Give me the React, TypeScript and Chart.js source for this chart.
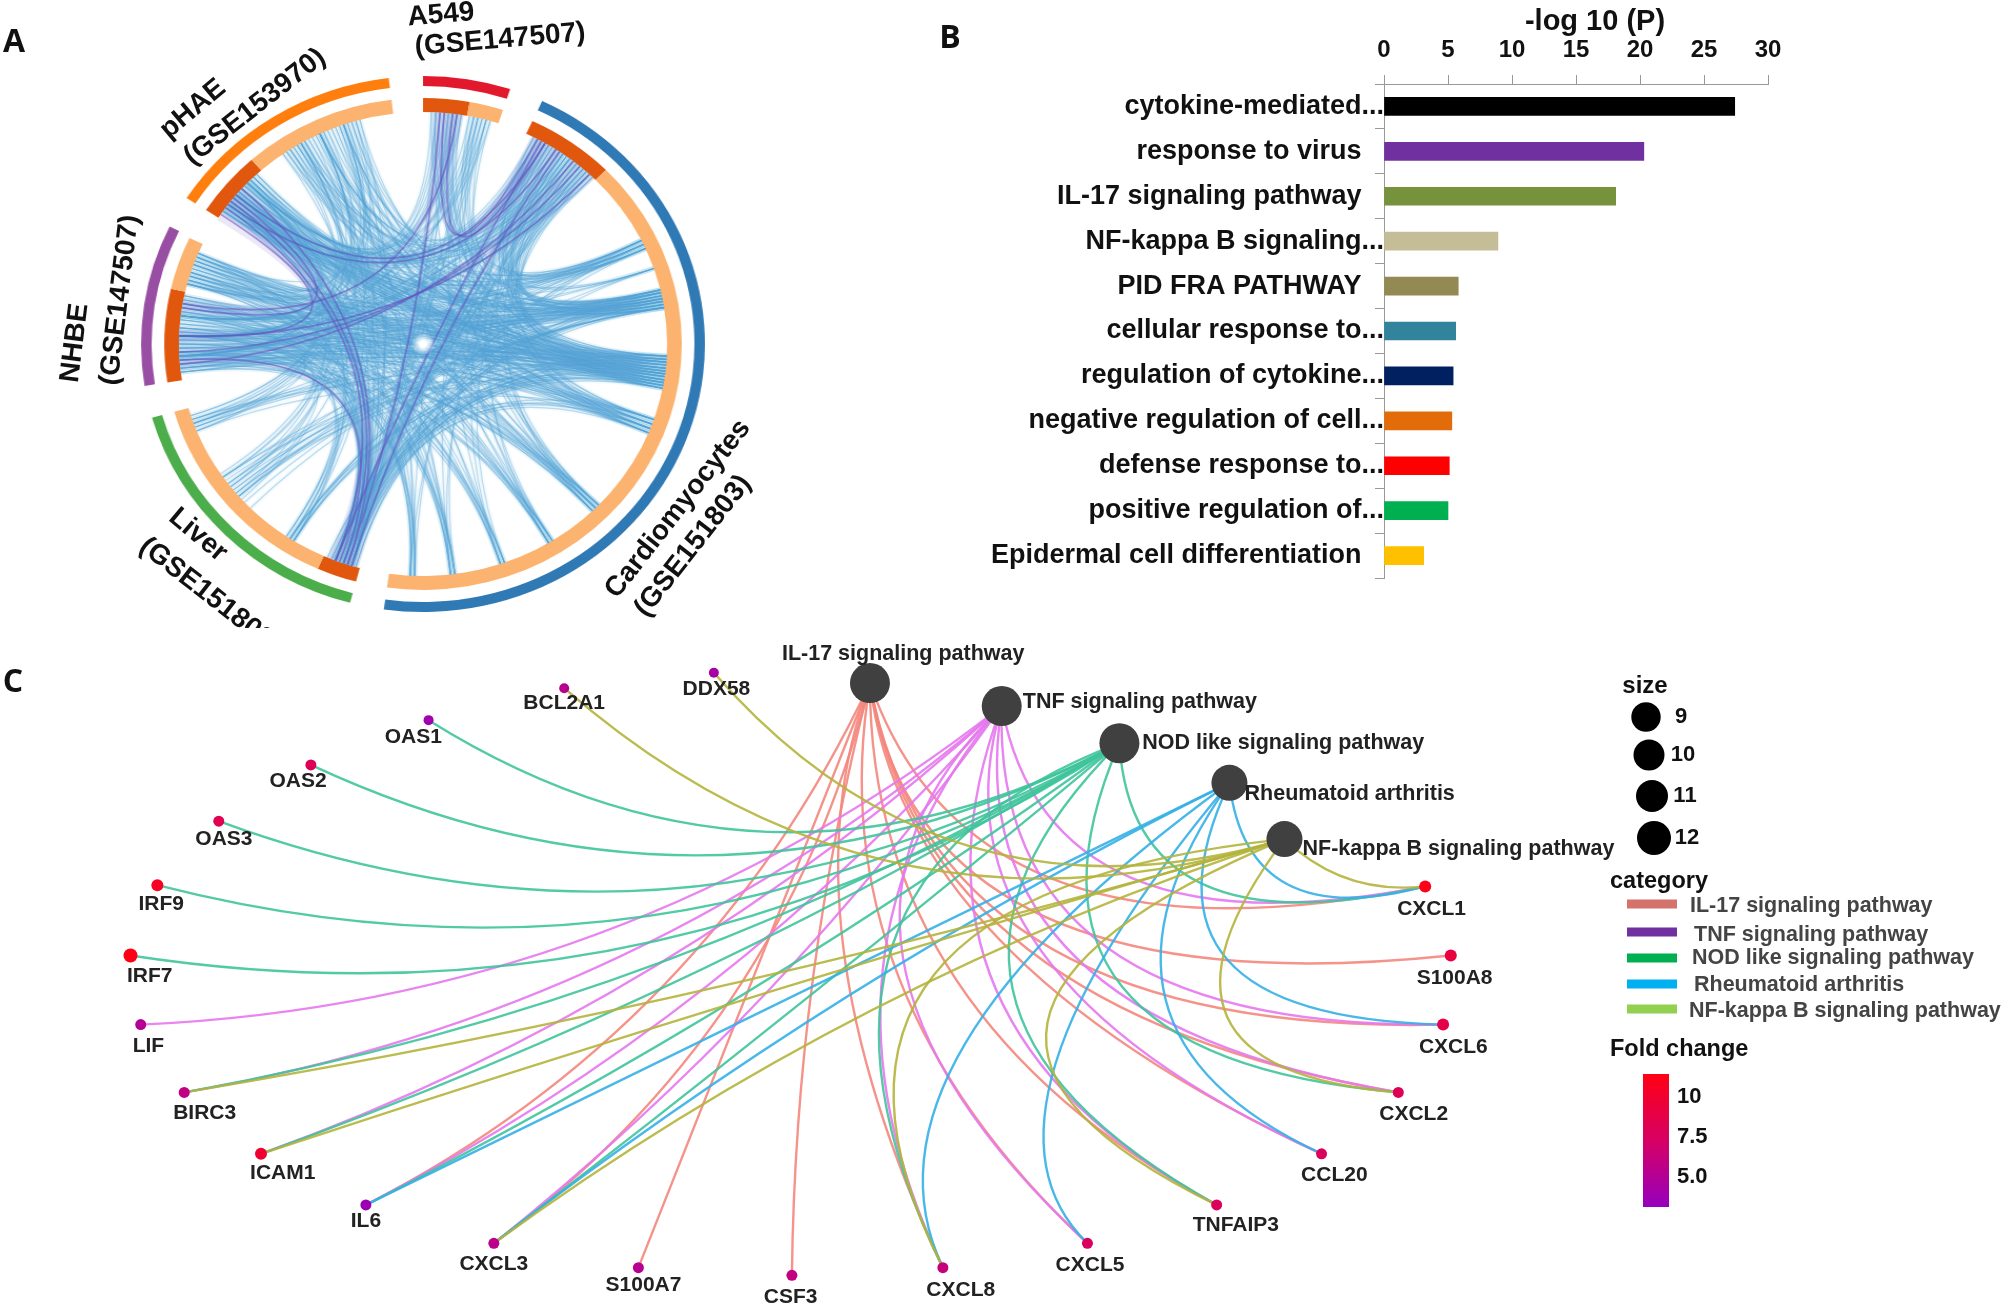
import React, { useEffect, useRef } from "react";
import { Chart, registerables } from "chart.js";

Chart.register(...registerables);

// ---------- Panel B ----------
const barLabels = ["cytokine-mediated...", "response to virus", "IL-17 signaling pathway", "NF-kappa B signaling...", "PID FRA PATHWAY", "cellular response to...", "regulation of cytokine...", "negative regulation of cell...", "defense response to...", "positive regulation of...", "Epidermal cell differentiation"];
const barValues = [27.4, 20.3, 18.1, 8.9, 5.8, 5.6, 5.4, 5.3, 5.1, 5.0, 3.1];
const barColors = ["#000000", "#7030a0", "#76923c", "#c4bd97", "#938953", "#31849b", "#002060", "#e36c0a", "#ff0000", "#00b050", "#ffc000"];
const barLabelGap = [0, 3, 3, 0, 3, 0, 0, 0, 0, 0, 3];

// ---------- Panel A ----------
const outerRingValues = [18, 7, 163, 7, 59, 7, 35, 7, 50, 7];
const outerRingColors = ["#e2182d", "transparent", "#2f79b5", "transparent", "#4bae4a", "transparent", "#984ea3", "transparent", "#ff7f0e", "transparent"];
const innerRingValues = [10.4, 7.6, 7, 20, 143, 7, 9, 50, 7, 22, 12.5, 7.5, 15.5, 34.5, 7];
const innerRingColors = ["#e2570e", "#fbb36f", "transparent", "#e2570e", "#fbb36f", "transparent", "#e2570e", "#fbb36f", "transparent", "#e2570e", "#fbb36f", "transparent", "#e2570e", "#fbb36f", "transparent"];

const blueLinks: [number, number[]][] = [
  [63.5, [306, 312, 331, 268, 277, 199, 33, 287, 233, 8]],
  [64.6, [308, 315, 338, 271, 281, 201, 37, 291, 212, 14]],
  [65.7, [305, 310, 327, 265, 274, 197, 41, 285, 250, 5]],
  [71, [309, 343, 269, 279, 198, 30, 229]],
  [76.5, [307, 313, 329, 264, 272, 280, 200, 35, 289, 235]],
  [77.2, [311, 316, 335, 267, 275, 196, 39, 292, 213, 3]],
  [78, [306, 309, 341, 263, 270, 282, 202, 28, 286, 250]],
  [78.7, [308, 314, 328, 266, 273, 278, 199, 43, 290, 231, 12]],
  [79.4, [305, 312, 333, 269, 276, 197, 32, 288, 213]],
  [80.2, [310, 317, 344, 264, 271, 281, 201, 36, 293, 249, 7]],
  [81, [307, 315, 326, 268, 279, 198, 40, 285, 233, 227, 229, 225, 231]],
  [93, [306, 313, 332, 265, 272, 200, 29, 291, 212, 15]],
  [93.8, [309, 316, 339, 267, 277, 203, 34, 287, 251]],
  [94.5, [305, 311, 325, 270, 280, 196, 38, 289, 230, 4]],
  [95.2, [308, 314, 336, 263, 274, 199, 42, 292, 213]],
  [96, [307, 312, 342, 266, 275, 282, 202, 31, 286, 235, 9]],
  [96.7, [310, 317, 329, 269, 278, 197, 35, 290, 249]],
  [97.4, [306, 309, 334, 264, 273, 281, 201, 39, 288, 232, 13]],
  [98.1, [311, 315, 327, 268, 271, 198, 27, 285, 212]],
  [98.9, [305, 313, 340, 265, 276, 200, 33, 293, 250, 6]],
  [99.6, [308, 316, 331, 267, 279, 196, 37, 287, 229]],
  [100.3, [307, 310, 345, 270, 274, 203, 41, 291, 213, 2]],
  [101, [309, 314, 337, 263, 272, 199, 30, 289, 234]],
  [109, [306, 312, 330, 266, 277, 202, 36, 286, 251, 11]],
  [110.2, [310, 317, 343, 269, 280, 197, 40, 292, 230]],
  [111.4, [305, 315, 326, 264, 273, 201, 28, 288, 212, 8]],
  [112.5, [308, 311, 335, 268, 282, 198, 34, 290, 248]],
  [134, [307, 313, 332, 265, 275, 38, 287, 16, 5]],
  [135, [309, 316, 341, 267, 278, 32, 291, 13]],
  [136, [306, 311, 328, 270, 271, 43, 285, 7]],
  [148, [308, 315, 338, 263, 279, 29, 289, 3]],
  [149, [305, 312, 344, 266, 274, 35, 293, 12]],
  [160.5, [310, 329, 269, 281, 41, 286]],
  [161.5, [307, 336, 264, 276, 31, 290, 9]],
  [172.5, [309, 314, 327, 268, 272, 37, 288]],
  [173.5, [306, 339, 265, 280, 42, 292, 15]],
  [182, [311, 331, 267, 273, 33, 287]],
  [183, [308, 342, 270, 277, 39, 285, 6]],
  [199, [28, 31, 34, 37, 40, 43, 12, 15, 4, 8, 306, 310, 314, 328, 336, 343, 286, 290, 264, 270, 276, 282]],
  [197, [29, 33, 36, 39, 42, 14, 3, 6, 305, 308, 312, 316, 331, 340, 288, 292, 266, 272, 278]],
  [201, [27, 30, 35, 38, 41, 44, 13, 7, 307, 311, 315, 325, 334, 345, 285, 293, 263, 268, 274, 280]],
  [267, [30, 33, 38, 41, 8, 14, 327, 333, 340, 213, 232, 250]],
  [272, [28, 35, 37, 43, 4, 11, 329, 337, 344, 212, 229, 248]],
  [277, [31, 36, 40, 44, 6, 15, 326, 335, 342, 214, 235, 251]],
  [310, [28, 31, 34, 38, 41, 3, 9, 13, 214, 230, 252, 286, 291]],
  [307, [30, 33, 36, 39, 43, 5, 7, 16, 212, 233, 249, 288, 293]],
  [314, [27, 32, 35, 37, 42, 2, 8, 12, 213, 236, 251, 285, 290]],
  [335, [29, 37, 44, 213, 232, 250, 287]],
  [341, [32, 40, 212, 228, 248, 292]],
  [330, [35, 42, 214, 235, 252, 285]],
];

const purpleLinks: [number, number][] = [
  [308, 199], [312, 198], [306, 201], [268, 40], [272, 43], [265, 38],
  [310, 30], [307, 33], [309, 279], [304, 272], [5, 28], [7, 30],
  [4, 198], [197, 34], [201, 29], [200, 266], [280, 8],
];

// ---------- Panel C ----------
const pathwayNames = ["IL-17 signaling pathway", "TNF signaling pathway", "NOD like signaling pathway", "Rheumatoid arthritis", "NF-kappa B signaling pathway"];
const pathwayX = [680, 783, 875, 961, 1004];
const pathwayY = [534, 552, 581, 612, 656];
const pathwayR = [20, 20, 20, 18, 18];
const pathwayLabelX = [706, 891, 1003, 1055, 1140];
const pathwayLabelY = [511, 549, 581, 621, 664];
const edgeColors = ["rgba(244,135,125,0.9)", "rgba(230,120,238,0.9)", "rgba(63,196,155,0.9)", "rgba(53,176,230,0.9)", "rgba(180,180,60,0.9)"];

const geneNames = ["OAS1", "BCL2A1", "DDX58", "OAS2", "OAS3", "IRF9", "IRF7", "LIF", "BIRC3", "ICAM1", "IL6", "CXCL3", "S100A7", "CSF3", "CXCL8", "CXCL5", "TNFAIP3", "CCL20", "CXCL2", "CXCL6", "S100A8", "CXCL1"];
const geneX = [335, 441, 558, 243, 171, 123, 102, 110, 144, 204, 286, 386, 499, 619, 737, 850, 951, 1033, 1093, 1128, 1134, 1114];
const geneY = [563, 538, 526, 598, 642, 692, 747, 801, 854, 902, 942, 972, 991, 997, 991, 972, 942, 902, 854, 801, 747, 693];
const geneLabelX = [323, 441, 560, 233, 175, 126, 117, 116, 160, 221, 286, 386, 503, 618, 751, 852, 966, 1043, 1105, 1136, 1137, 1119];
const geneLabelY = [576, 550, 539, 611, 656, 707, 763, 818, 870, 917, 955, 988, 1005, 1014, 1009, 989, 958, 919, 871, 819, 765, 711];
const geneFold = [4.6, 5.8, 5.0, 8.0, 8.2, 10, 10.6, 5.6, 6.2, 9.4, 4.4, 6.0, 5.8, 6.4, 6.6, 7.6, 7.8, 7.8, 8.0, 8.6, 8.8, 10.4];
const geneR = [5, 5, 5, 5.5, 5.5, 6, 7, 5.5, 5.5, 6, 5.5, 5.5, 5.5, 5.5, 5.5, 5.5, 5.5, 5.5, 5.5, 6, 6, 6];

// Each edge: [gene, bend] (fraction of the chord) or [gene, controlX, controlY].
type Edge = [string, number, number?];
const il17Edges: Edge[] = [["CXCL3", -0.18], ["IL6", -0.17], ["S100A7", 0.0], ["CSF3", 0.06], ["CXCL8", 610, 720], ["CXCL5", 640, 775], ["TNFAIP3", 680, 795], ["CCL20", 705, 750], ["CXCL2", 720, 790], ["CXCL6", 730, 810], ["S100A8", 720, 790], ["CXCL1", 760, 765]];
const tnfEdges: Edge[] = [["LIF", -0.16], ["BIRC3", -0.14], ["ICAM1", -0.1], ["IL6", -0.095], ["CXCL3", -0.07], ["CXCL8", 620, 745], ["CXCL5", 595, 735], ["TNFAIP3", 690, 800], ["CCL20", 720, 760], ["CXCL2", 745, 795], ["CXCL6", 775, 805], ["CXCL1", 820, 750]];
const nodEdges: Edge[] = [["OAS1", -0.29], ["OAS2", -0.25], ["OAS3", -0.235], ["IRF9", -0.21], ["IRF7", -0.19], ["BIRC3", -0.09], ["ICAM1", -0.05], ["IL6", -0.04], ["CXCL3", -0.01], ["CXCL8", 590, 690], ["TNFAIP3", 670, 785], ["CXCL2", 770, 825], ["CXCL1", 885, 745]];
const raEdges: Edge[] = [["IL6", 0.0], ["CXCL3", 0.05], ["CXCL8", 660, 830], ["CXCL5", 745, 870], ["CCL20", 825, 805], ["CXCL6", 875, 795], ["CXCL1", 975, 730]];
const nfkbEdges: Edge[] = [["BCL2A1", -0.28], ["DDX58", -0.32], ["BIRC3", -0.03], ["ICAM1", 0.01], ["CXCL3", 0.08], ["CXCL8", 590, 700], ["TNFAIP3", 660, 800], ["CXCL2", 870, 835], ["CXCL1", 1050, 700]];
const allEdges = [il17Edges, tnfEdges, nodEdges, raEdges, nfkbEdges];

const sizeLabels = ["9", "10", "11", "12"];
const sizeX = [1646, 1649, 1652, 1654];
const sizeY = [717, 755, 796, 838];
const sizeR = [14.7, 15.5, 16, 17];
const sizeLabelX = [1681, 1683, 1685, 1687];

const categoryNames = pathwayNames;
const categoryColors = ["#d4736b", "#7030a0", "#00b050", "#00b0f0", "#92d050"];
const categoryLineY = [904, 932, 958, 984, 1009];
const categoryLabelX = [1690, 1694, 1692, 1694, 1689];
const categoryLabelY = [906, 935, 958, 985, 1011];

const foldTicks = ["10", "7.5", "5.0"];
const foldTickY = [1097, 1137, 1177];

type T = [string, number, number, number, string, string?];
const BOLD = '"Liberation Sans"';
const panelTexts: T[] = [
  ["A", 14, 43, 0, `bold 32px "Open Sans"`],
  ["B", 950, 39, 0, `bold 32px "Open Sans"`],
  ["C", 13, 683, 0, `bold 32px "Open Sans"`],
  ["A549", 441, 15, -5, `bold 28px ${BOLD}`],
  ["(GSE147507)", 500, 40, -5, `bold 28px ${BOLD}`],
  ["pHAE", 193, 109, -40, `bold 28px ${BOLD}`],
  ["(GSE153970)", 255, 107, -38, `bold 28px ${BOLD}`],
  ["NHBE", 75, 343, -83, `bold 28px ${BOLD}`],
  ["(GSE147507)", 120, 300, -83, `bold 28px ${BOLD}`],
  ["Liver", 198, 535, 40, `bold 28px ${BOLD}`],
  ["Cardiomyocytes", 678, 509, -52, `bold 28px ${BOLD}`],
  ["(GSE151803)", 693, 546, -52, `bold 28px ${BOLD}`],
  ["-log 10 (P)", 1595, 22, 0, `bold 29px ${BOLD}`],
  ["size", 1645, 686, 0, `bold 24px ${BOLD}`],
];
const clippedLiverText = "(GSE151803)";

function foldColor(v: number) {
  const stops: [number, number[]][] = [[4, [150, 0, 190]], [7.5, [215, 0, 100]], [10.5, [255, 0, 20]]];
  let a = stops[0], b = stops[1];
  if (v > 7.5) { a = stops[1]; b = stops[2]; }
  const t = Math.max(0, Math.min(1, (v - a[0]) / (b[0] - a[0])));
  const c = a[1].map((x, i) => Math.round(x + (b[1][i] - x) * t));
  return `rgb(${c[0]},${c[1]},${c[2]})`;
}

const chordPlugin = {
  id: "chords",
  afterDatasetsDraw(chart: any) {
    const arc = chart.getDatasetMeta(2).data[0];
    const cx = arc.x, cy = arc.y, r = arc.innerRadius;
    const pt = (deg: number) => {
      const t = (deg * Math.PI) / 180;
      return [cx + r * Math.sin(t), cy - r * Math.cos(t)];
    };
    const ctx = chart.ctx;
    ctx.save();
    ctx.fillStyle = "rgba(185,165,225,0.25)";
    purpleLinks.forEach(([a, b]) => {
      const p1 = pt(a - 1.6), p2 = pt(a + 1.6), q1 = pt(b - 1.6), q2 = pt(b + 1.6);
      ctx.beginPath();
      ctx.moveTo(p1[0], p1[1]);
      ctx.quadraticCurveTo(cx, cy, q1[0], q1[1]);
      ctx.lineTo(q2[0], q2[1]);
      ctx.quadraticCurveTo(cx, cy, p2[0], p2[1]);
      ctx.closePath();
      ctx.fill();
    });
    const drawBlue = (color: string, w: number) => {
      ctx.strokeStyle = color;
      ctx.lineWidth = w;
      blueLinks.forEach(([a, list]) => {
        const p = pt(a);
        list.forEach((b) => {
          const q = pt(b);
          ctx.beginPath();
          ctx.moveTo(p[0], p[1]);
          ctx.quadraticCurveTo(cx, cy, q[0], q[1]);
          ctx.stroke();
        });
      });
    };
    drawBlue("rgba(110,180,225,0.06)", 5);
    drawBlue("rgba(85,160,212,0.38)", 1.2);
    ctx.strokeStyle = "rgba(100,80,190,0.55)";
    ctx.lineWidth = 1.8;
    purpleLinks.forEach(([a, b]) => {
      const p = pt(a), q = pt(b);
      ctx.beginPath();
      ctx.moveTo(p[0], p[1]);
      ctx.quadraticCurveTo(cx, cy, q[0], q[1]);
      ctx.stroke();
    });
    const hole = ctx.createRadialGradient(cx, cy, 3, cx, cy, 11);
    hole.addColorStop(0, "rgba(255,255,255,1)");
    hole.addColorStop(1, "rgba(255,255,255,0)");
    ctx.fillStyle = hole;
    ctx.beginPath();
    ctx.arc(cx, cy, 11, 0, Math.PI * 2);
    ctx.fill();
    ctx.restore();
  },
};

function drawText(ctx: any, text: string, x: number, y: number, rot: number, font: string, color = "#111", align = "center") {
  ctx.save();
  ctx.translate(x, y);
  ctx.rotate((rot * Math.PI) / 180);
  ctx.font = font;
  ctx.fillStyle = color;
  ctx.textAlign = align;
  ctx.textBaseline = "middle";
  ctx.fillText(text, 0, 0);
  ctx.restore();
}

const networkPlugin = {
  id: "network",
  beforeDatasetsDraw(chart: any) {
    const { ctx, scales } = chart;
    const X = (v: number) => scales.x.getPixelForValue(v);
    const Y = (v: number) => scales.y.getPixelForValue(v);
    ctx.save();
    ctx.lineWidth = 2.4;
    ctx.lineCap = "round";
    allEdges.forEach((edges, pi) => {
      ctx.strokeStyle = edgeColors[pi];
      edges.forEach(([gene, a, b]) => {
        const gi = geneNames.indexOf(gene);
        const x0 = X(pathwayX[pi]), y0 = Y(pathwayY[pi]), x1 = X(geneX[gi]), y1 = Y(geneY[gi]);
        const dx = x1 - x0, dy = y1 - y0;
        const cx = b === undefined ? (x0 + x1) / 2 - dy * a : X(a);
        const cy = b === undefined ? (y0 + y1) / 2 + dx * a : Y(b);
        ctx.beginPath();
        ctx.moveTo(x0, y0);
        ctx.quadraticCurveTo(cx, cy, x1, y1);
        ctx.stroke();
      });
    });
    ctx.restore();
  },
  afterDatasetsDraw(chart: any) {
    const { ctx, scales } = chart;
    const X = (v: number) => scales.x.getPixelForValue(v);
    const Y = (v: number) => scales.y.getPixelForValue(v);
    const geneFont = `bold 21px ${BOLD}`;
    geneNames.forEach((n, i) => drawText(ctx, n, X(geneLabelX[i]), Y(geneLabelY[i]), 0, geneFont, "#222"));
    const pFont = `bold 21.5px ${BOLD}`;
    pathwayNames.forEach((n, i) => drawText(ctx, n, X(pathwayLabelX[i]), Y(pathwayLabelY[i]), 0, pFont, "#222"));

    panelTexts.forEach(([t, x, y, r, f]) => drawText(ctx, t, x, y, r, f, "#111"));

    // clipped label of panel A
    ctx.save();
    ctx.beginPath();
    ctx.rect(100, 500, 300, 128);
    ctx.clip();
    drawText(ctx, clippedLiverText, 210, 596, 38, `bold 28px ${BOLD}`, "#111");
    ctx.restore();

    // size legend
    ctx.fillStyle = "#000";
    sizeLabels.forEach((s, i) => {
      ctx.beginPath();
      ctx.arc(sizeX[i], sizeY[i], sizeR[i], 0, Math.PI * 2);
      ctx.fill();
      drawText(ctx, s, sizeLabelX[i], sizeY[i], 0, `bold 22px ${BOLD}`, "#111");
    });

    // category legend
    drawText(ctx, "category", 1610, 882, 0, `bold 23.5px ${BOLD}`, "#111", "left");
    categoryNames.forEach((n, i) => {
      ctx.fillStyle = categoryColors[i];
      ctx.fillRect(1627, categoryLineY[i] - 4.5, 50, 9);
      drawText(ctx, n, categoryLabelX[i], categoryLabelY[i], 0, `bold 21.5px ${BOLD}`, "#444", "left");
    });

    // fold-change legend
    drawText(ctx, "Fold change", 1610, 1050, 0, `bold 23.5px ${BOLD}`, "#111", "left");
    const g = ctx.createLinearGradient(0, 1074, 0, 1207);
    g.addColorStop(0, foldColor(10.5));
    g.addColorStop(0.5, foldColor(7.5));
    g.addColorStop(1, foldColor(4));
    ctx.fillStyle = g;
    ctx.fillRect(1643, 1074, 26, 133);
    foldTicks.forEach((s, i) => drawText(ctx, s, 1677, foldTickY[i], 0, `bold 22px ${BOLD}`, "#111", "left"));
  },
};

export default function App() {
  const ringRef = useRef<HTMLCanvasElement>(null);
  const barRef = useRef<HTMLCanvasElement>(null);
  const netRef = useRef<HTMLCanvasElement>(null);

  useEffect(() => {
    const ring = new Chart(ringRef.current!, {
      type: "doughnut",
      data: {
        datasets: [
          { data: outerRingValues, backgroundColor: outerRingColors, weight: 10, borderWidth: 0 },
          { data: [1], backgroundColor: ["transparent"], weight: 12, borderWidth: 0 },
          { data: innerRingValues, backgroundColor: innerRingColors, weight: 14, borderWidth: 0 },
        ],
      },
      options: {
        responsive: false,
        animation: false,
        cutout: 232,
        layout: { padding: 12 },
        plugins: { legend: { display: false }, tooltip: { enabled: false } },
      },
      plugins: [chordPlugin],
    } as any);

    const bar = new Chart(barRef.current!, {
      type: "bar",
      data: {
        labels: barLabels,
        datasets: [{ data: barValues, backgroundColor: barColors, barThickness: 18 }],
      },
      options: {
        indexAxis: "y",
        responsive: false,
        animation: false,
        layout: { padding: { top: 0, right: 82, bottom: 22, left: 0 } },
        plugins: { legend: { display: false }, tooltip: { enabled: false } },
        scales: {
          x: {
            position: "top",
            min: 0,
            max: 30,
            afterFit: (s: any) => { s.height = 84; },
            ticks: { stepSize: 5, padding: 10, color: "#111", font: { family: BOLD, size: 24, weight: "bold" }, maxRotation: 0 },
            grid: { drawOnChartArea: false, tickLength: 9, color: "#999", offset: false },
            border: { color: "#999" },
          },
          y: {
            afterFit: (s: any) => { s.width = 484; },
            ticks: {
              autoSkip: false,
              padding: -9,
              color: "#111",
              font: { family: BOLD, size: 27, weight: "bold" },
              callback: (_: any, i: number) => barLabels[i] + "\u00A0".repeat(barLabelGap[i]),
            },
            grid: { drawOnChartArea: false, tickLength: 9, color: "#999" },
            border: { color: "#999" },
          },
        },
      },
    } as any);

    const net = new Chart(netRef.current!, {
      type: "scatter",
      data: {
        datasets: [
          {
            data: geneNames.map((_, i) => ({ x: geneX[i], y: geneY[i] })),
            pointBackgroundColor: geneFold.map(foldColor),
            pointBorderWidth: 0,
            pointRadius: geneR,
          },
          {
            data: pathwayNames.map((_, i) => ({ x: pathwayX[i], y: pathwayY[i] })),
            pointBackgroundColor: "#404040",
            pointBorderWidth: 0,
            pointRadius: pathwayR,
          },
        ],
      },
      options: {
        responsive: false,
        animation: false,
        layout: { padding: 0, autoPadding: false },
        plugins: { legend: { display: false }, tooltip: { enabled: false } },
        scales: {
          x: { type: "linear", display: false, min: 0, max: 1568 },
          y: { type: "linear", display: false, min: 0, max: 1021, reverse: true },
        },
      },
      plugins: [networkPlugin],
    } as any);

    return () => {
      ring.destroy();
      bar.destroy();
      net.destroy();
    };
  }, []);

  const soft = "blur(0.6px)";
  return (
    <div style={{ position: "absolute", left: 0, top: 0, width: 2006, height: 1306, overflow: "hidden", background: "#fff" }}>
      <canvas ref={ringRef} width={560} height={560} style={{ position: "absolute", left: 143, top: 64, width: 560, height: 560, transform: "scaleX(1.052)", filter: soft }} />
      <canvas ref={barRef} width={950} height={600} style={{ position: "absolute", left: 900, top: 0, width: 950, height: 600, filter: soft }} />
      <canvas ref={netRef} width={2006} height={1306} style={{ position: "absolute", left: 0, top: 0, width: 2006, height: 1306, filter: soft }} />
    </div>
  );
}
